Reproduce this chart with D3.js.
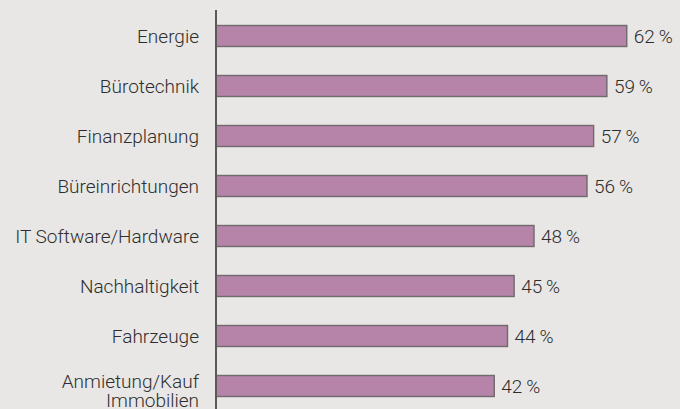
<!DOCTYPE html>
<html>
<head>
<meta charset="utf-8">
<script src="https://cdn.jsdelivr.net/npm/d3@7"></script>
<style>
  html, body { margin: 0; padding: 0; background: #e8e7e5; }
  svg { display: block; }
  text { font-family: Roboto, "Liberation Sans", Arial, sans-serif; font-weight: 300; fill: #2e2e2e; }
</style>
</head>
<body>
<div id="chart"></div>
<script>
// categories (top to bottom) and share in percent
const categories = ["Energie", "Bürotechnik", "Finanzplanung", "Büreinrichtungen",
  "IT Software/Hardware", "Nachhaltigkeit", "Fahrzeuge", "Anmietung/Kauf\nImmobilien"];
const values = [62, 59, 57, 56, 48, 45, 44, 42];

const width = 680, height = 409;
const svg = d3.select("#chart").append("svg")
    .attr("width", width).attr("height", height);

const x = d3.scaleLinear().domain([0, 100]).range([216, 216 + 662.5]);
const y = d3.scaleBand().domain(categories).range([11, 411]).paddingInner(0.58).paddingOuter(0.29);

// bars
svg.selectAll("rect.bar")
    .data(values)
    .enter().append("rect")
    .attr("class", "bar")
    .attr("x", x(0))
    .attr("y", (d, i) => y(categories[i]))
    .attr("width", d => x(d) - x(0))
    .attr("height", y.bandwidth())
    .attr("fill", "#b784a9")
    .attr("stroke", "#6e6a6d")
    .attr("stroke-width", 1.4);

// axis line
svg.append("line")
    .attr("x1", 216).attr("x2", 216)
    .attr("y1", 10).attr("y2", height)
    .attr("stroke", "#5a5a5a")
    .attr("stroke-width", 2);

// category labels
const labels = svg.selectAll("text.label")
    .data(categories)
    .enter().append("text")
    .attr("class", "label")
    .attr("text-anchor", "end")
    .style("font-size", "19px")
    .attr("x", 199)
    .attr("y", d => y(d) + y.bandwidth() / 2 + 6.5);

labels.each(function (d) {
    const lines = d.split("\n");
    const t = d3.select(this);
    if (lines.length > 1) t.attr("y", +t.attr("y") - 5);
    lines.forEach((l, i) => {
        t.append("tspan").attr("x", 199).attr("dy", i === 0 ? 0 : 19).text(l);
    });
});

// value labels
svg.selectAll("text.value")
    .data(values)
    .enter().append("text")
    .attr("class", "value")
    .style("font-size", "19px")
    .attr("x", d => x(d) + 7)
    .attr("y", (d, i) => y(categories[i]) + y.bandwidth() / 2 + 6.5)
    .text(d => d + "\u2009%");
</script>
</body>
</html>
